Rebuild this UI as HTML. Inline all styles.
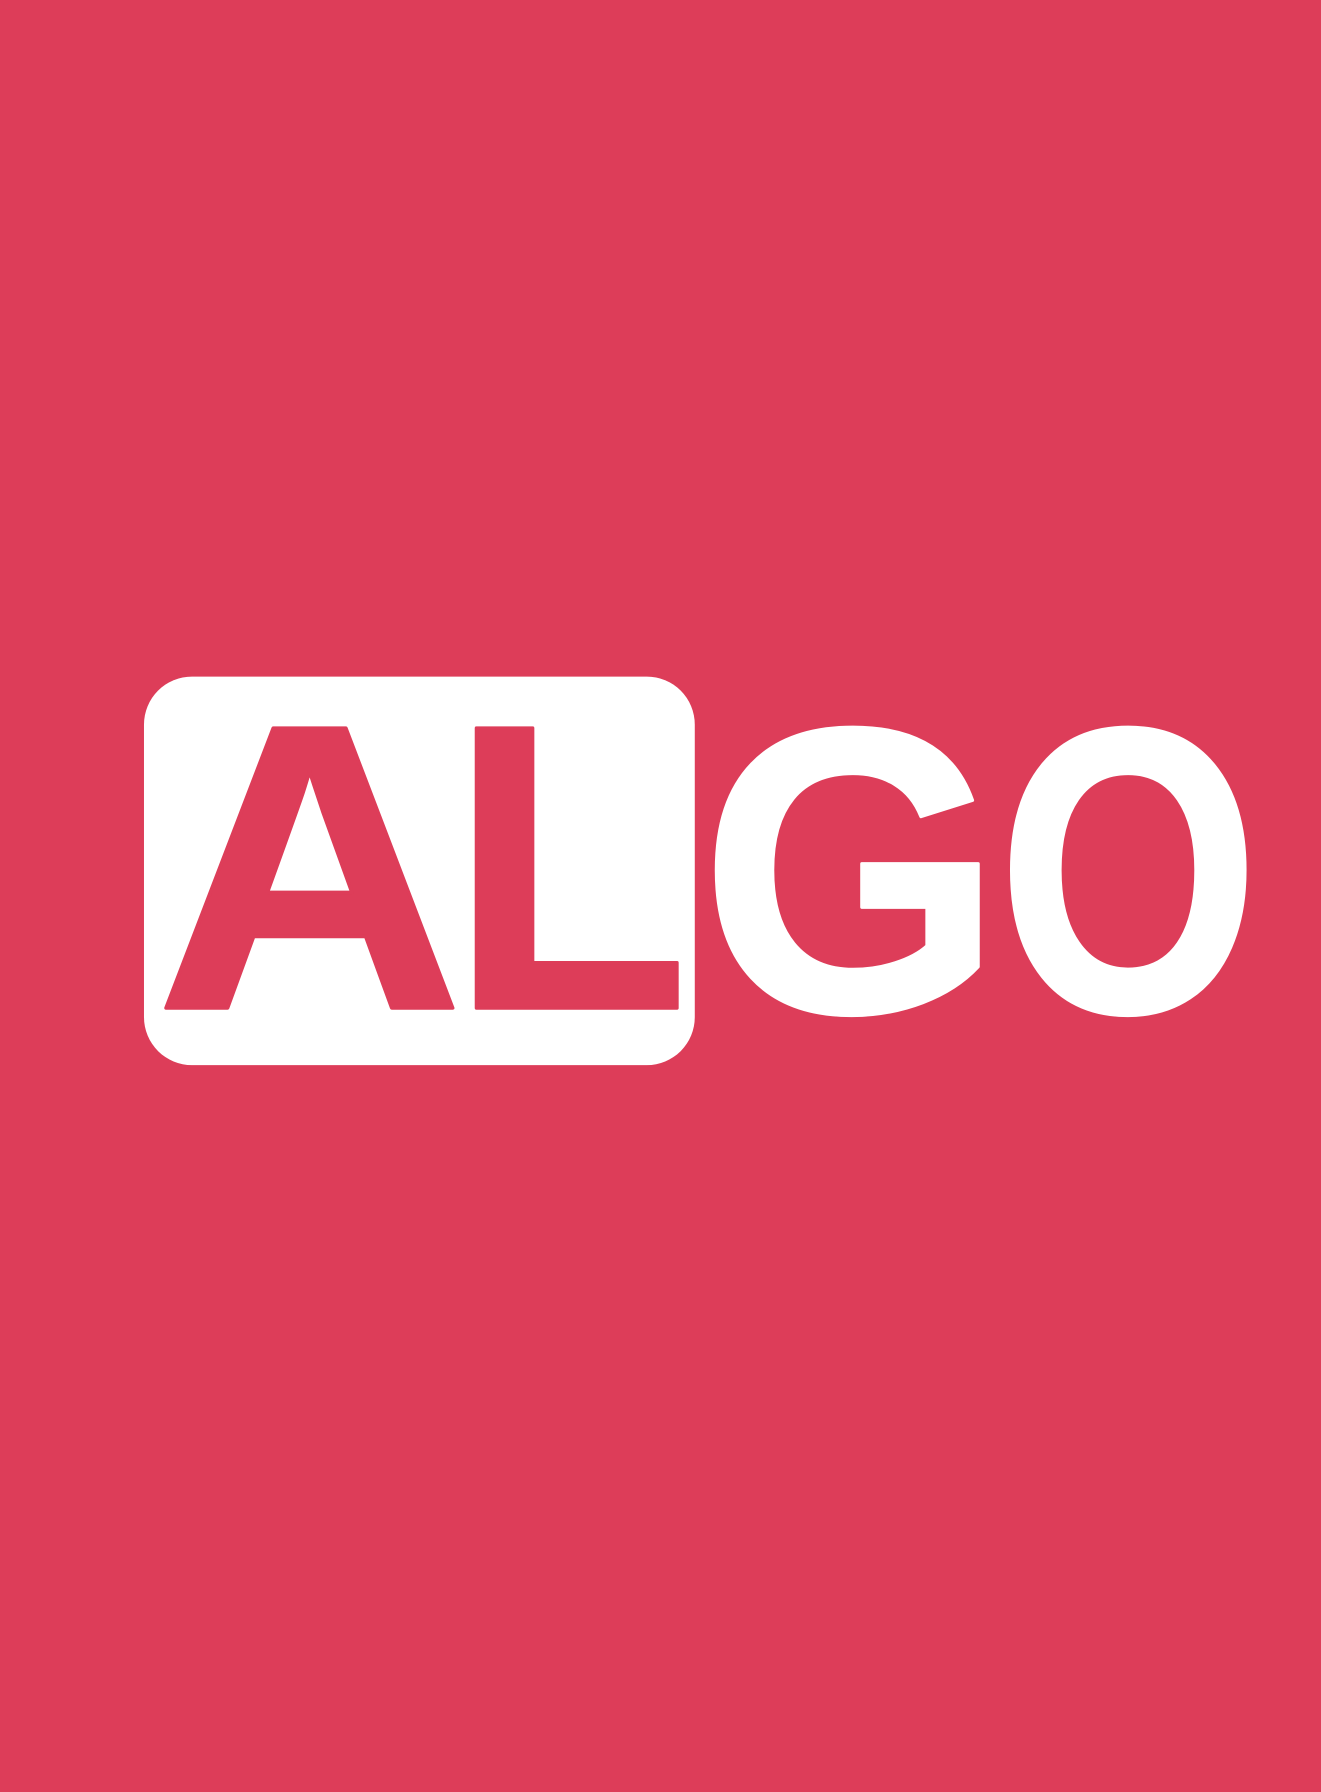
<!DOCTYPE html>
<html>
<head>
<meta charset="utf-8">
<style>
  html,body{margin:0;padding:0;background:#DD3D59;}
  svg{display:block;}
</style>
</head>
<body>
<svg width="1321" height="1792" viewBox="0 0 1156 1568" preserveAspectRatio="none" xmlns="http://www.w3.org/2000/svg">
  <rect x="0" y="0" width="1156" height="1568" fill="#DD3D59"/>
  <rect x="126" y="592" width="482" height="340" rx="42" ry="42" fill="#ffffff"/>
  <g font-family="'Liberation Sans', sans-serif" font-weight="bold" font-size="356" stroke-linejoin="round">
    <text x="136" y="882" fill="#DD3D59" stroke="#DD3D59" stroke-width="3" textLength="270" lengthAdjust="spacingAndGlyphs">A</text>
    <text x="394" y="882" fill="#DD3D59" stroke="#DD3D59" stroke-width="3" textLength="209" lengthAdjust="spacingAndGlyphs">L</text>
    <text x="613" y="885" fill="#ffffff" stroke="#ffffff" stroke-width="3" textLength="264" lengthAdjust="spacingAndGlyphs">G</text>
    <text x="873" y="885" fill="#ffffff" stroke="#ffffff" stroke-width="3" textLength="229" lengthAdjust="spacingAndGlyphs">O</text>
  </g>
</svg>
</body>
</html>
